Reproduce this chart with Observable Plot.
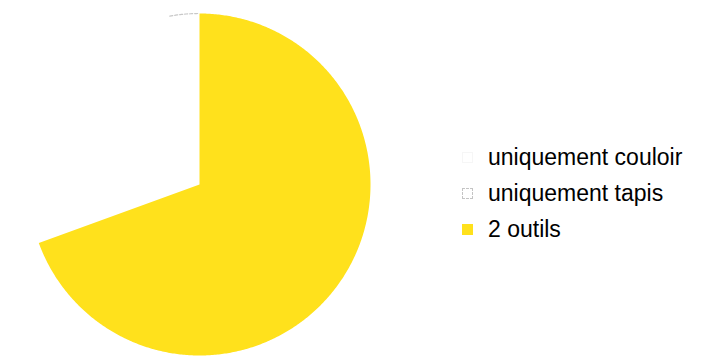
<!DOCTYPE html>
<html>
<head>
<meta charset="utf-8">
<script src="https://cdn.jsdelivr.net/npm/d3@7"></script>
<script src="https://cdn.jsdelivr.net/npm/@observablehq/plot@0.6"></script>
<style>
  html, body { margin: 0; padding: 0; background: #ffffff; }
  #wrap { position: relative; width: 709px; height: 358px; overflow: hidden; }
  #legend { position: absolute; left: 462px; top: 139px; font-family: "Liberation Sans", Arial, sans-serif; font-size: 23px; color: #000; }
  .row { display: flex; align-items: center; height: 36px; }
  .sw { width: 11px; height: 11px; margin-right: 15px; box-sizing: border-box; }
</style>
</head>
<body>
<div id="wrap"><div id="chart"></div><div id="legend"></div></div>
<script>
// Data
const categories = ["uniquement couloir", "uniquement tapis", "2 outils"];
const values = [10, 1, 25];
// Drawing order clockwise from 12 o'clock
const drawOrder = ["2 outils", "uniquement couloir", "uniquement tapis"];

// Styles
const fills = { "uniquement couloir": "#ffffff", "uniquement tapis": "#ffffff", "2 outils": "#ffe11c" };
const arcStrokes = { "uniquement couloir": null, "uniquement tapis": "#c8c8c8", "2 outils": null };
const legendBorders = { "uniquement couloir": "1px solid #f6f6f6", "uniquement tapis": "1px dashed #c4c4c4", "2 outils": "none" };

const data = categories.map((c, i) => ({ label: c, value: values[i] }));
const arcs = d3.pie()
  .value(d => d.value)
  .sort((a, b) => drawOrder.indexOf(a.label) - drawOrder.indexOf(b.label))(data);

function arcPoints(a) {
  const pts = [];
  const n = Math.max(2, Math.ceil((a.endAngle - a.startAngle) / (Math.PI / 360)));
  for (let k = 0; k <= n; k++) {
    const t = a.startAngle + (a.endAngle - a.startAngle) * k / n;
    pts.push({ x: Math.sin(t), y: Math.cos(t) });
  }
  return pts;
}
function slicePoints(a) {
  return [{ x: 0, y: 0 }, ...arcPoints(a), { x: 0, y: 0 }];
}

const marks = [];
arcs.forEach(a => {
  marks.push(Plot.line(slicePoints(a), { x: "x", y: "y", fill: fills[a.data.label], stroke: "none" }));
  if (arcStrokes[a.data.label]) {
    marks.push(Plot.line(arcPoints(a), {
      x: "x", y: "y", stroke: arcStrokes[a.data.label], strokeWidth: 1.2, strokeDasharray: "3,2"
    }));
  }
});

const chart = Plot.plot({
  width: 709,
  height: 358,
  marginLeft: 28,
  marginRight: 339,
  marginTop: 13,
  marginBottom: 3,
  x: { domain: [-1, 1], axis: null },
  y: { domain: [-1, 1], axis: null },
  style: { background: "#ffffff" },
  marks
});
document.getElementById("chart").appendChild(chart);

const legend = document.getElementById("legend");
categories.forEach(c => {
  const row = document.createElement("div");
  row.className = "row";
  const sw = document.createElement("div");
  sw.className = "sw";
  sw.style.background = fills[c];
  sw.style.border = legendBorders[c];
  const tx = document.createElement("span");
  tx.textContent = c;
  row.appendChild(sw);
  row.appendChild(tx);
  legend.appendChild(row);
});
</script>
</body>
</html>
